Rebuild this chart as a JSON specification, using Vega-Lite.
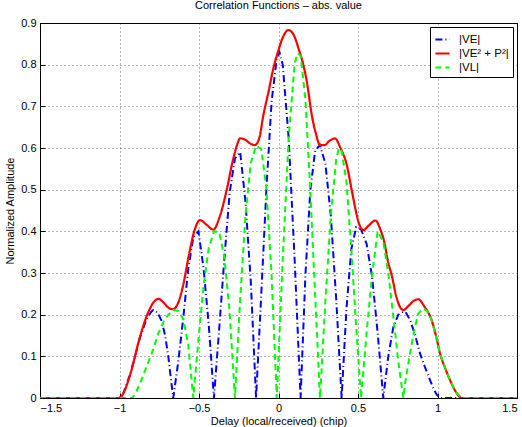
{
  "$schema": "https://vega.github.io/schema/vega-lite/v6.json",
  "width": 477,
  "height": 375,
  "autosize": {"type": "none"},
  "padding": {"left": 40, "top": 23, "right": 5, "bottom": 29},
  "background": "white",
  "title": {"text": "Correlation Functions – abs. value", "fontSize": 11, "fontWeight": "normal", "font": "Liberation Sans", "offset": 6, "color": "#000"},
  "config": {
    "font": "Liberation Sans",
    "view": {"stroke": "#000", "strokeWidth": 1},
    "axis": {
      "domainColor": "#000", "domainWidth": 1, "tickColor": "#000", "labelColor": "#000", "titleColor": "#000",
      "labelFont": "Liberation Sans", "titleFont": "Liberation Sans",
      "labelFontSize": 11, "titleFontSize": 11, "titleFontWeight": "normal",
      "gridColor": "#000", "gridDash": [1, 3], "gridOpacity": 0.6, "gridWidth": 1,
      "tickSize": -5, "labelPadding": 9
    }
  },
  "data": {"values": [
    {"s": "|VE|", "x": -1.5, "y": 0}, {"s": "|VE|", "x": -1.0, "y": 0}, {"s": "|VE|", "x": -0.976, "y": 0.011}, {"s": "|VE|", "x": -0.93, "y": 0.06},
    {"s": "|VE|", "x": -0.871, "y": 0.145}, {"s": "|VE|", "x": -0.83, "y": 0.19}, {"s": "|VE|", "x": -0.8, "y": 0.207}, {"s": "|VE|", "x": -0.787, "y": 0.211},
    {"s": "|VE|", "x": -0.76, "y": 0.205}, {"s": "|VE|", "x": -0.735, "y": 0.185}, {"s": "|VE|", "x": -0.713, "y": 0.15}, {"s": "|VE|", "x": -0.693, "y": 0.1},
    {"s": "|VE|", "x": -0.678, "y": 0.05}, {"s": "|VE|", "x": -0.662, "y": 0}, {"s": "|VE|", "x": -0.6305, "y": 0.087}, {"s": "|VE|", "x": -0.599, "y": 0.192},
    {"s": "|VE|", "x": -0.5675, "y": 0.31}, {"s": "|VE|", "x": -0.536, "y": 0.385}, {"s": "|VE|", "x": -0.5035, "y": 0.4}, {"s": "|VE|", "x": -0.471, "y": 0.31},
    {"s": "|VE|", "x": -0.4385, "y": 0.175}, {"s": "|VE|", "x": -0.406, "y": 0}, {"s": "|VE|", "x": -0.373, "y": 0.166}, {"s": "|VE|", "x": -0.34, "y": 0.337},
    {"s": "|VE|", "x": -0.307, "y": 0.493}, {"s": "|VE|", "x": -0.274, "y": 0.575}, {"s": "|VE|", "x": -0.2408, "y": 0.59}, {"s": "|VE|", "x": -0.2075, "y": 0.47},
    {"s": "|VE|", "x": -0.1743, "y": 0.28}, {"s": "|VE|", "x": -0.141, "y": 0}, {"s": "|VE|", "x": -0.1085, "y": 0.249}, {"s": "|VE|", "x": -0.076, "y": 0.502},
    {"s": "|VE|", "x": -0.0435, "y": 0.711}, {"s": "|VE|", "x": -0.011, "y": 0.815}, {"s": "|VE|", "x": 0.006, "y": 0.83}, {"s": "|VE|", "x": 0.0265, "y": 0.8},
    {"s": "|VE|", "x": 0.064, "y": 0.624}, {"s": "|VE|", "x": 0.1015, "y": 0.332}, {"s": "|VE|", "x": 0.139, "y": 0}, {"s": "|VE|", "x": 0.1695, "y": 0.297},
    {"s": "|VE|", "x": 0.2, "y": 0.498}, {"s": "|VE|", "x": 0.2305, "y": 0.594}, {"s": "|VE|", "x": 0.261, "y": 0.607}, {"s": "|VE|", "x": 0.295, "y": 0.562},
    {"s": "|VE|", "x": 0.329, "y": 0.438}, {"s": "|VE|", "x": 0.363, "y": 0.237}, {"s": "|VE|", "x": 0.397, "y": 0}, {"s": "|VE|", "x": 0.4275, "y": 0.215},
    {"s": "|VE|", "x": 0.458, "y": 0.357}, {"s": "|VE|", "x": 0.4885, "y": 0.41}, {"s": "|VE|", "x": 0.519, "y": 0.405}, {"s": "|VE|", "x": 0.554, "y": 0.37},
    {"s": "|VE|", "x": 0.589, "y": 0.29}, {"s": "|VE|", "x": 0.624, "y": 0.155}, {"s": "|VE|", "x": 0.659, "y": 0}, {"s": "|VE|", "x": 0.6905, "y": 0.1},
    {"s": "|VE|", "x": 0.722, "y": 0.17}, {"s": "|VE|", "x": 0.7535, "y": 0.2}, {"s": "|VE|", "x": 0.785, "y": 0.207}, {"s": "|VE|", "x": 0.8, "y": 0.206},
    {"s": "|VE|", "x": 0.83, "y": 0.185}, {"s": "|VE|", "x": 0.86, "y": 0.15}, {"s": "|VE|", "x": 0.89, "y": 0.107}, {"s": "|VE|", "x": 0.92, "y": 0.075},
    {"s": "|VE|", "x": 0.953, "y": 0.043}, {"s": "|VE|", "x": 0.975, "y": 0.022}, {"s": "|VE|", "x": 0.995, "y": 0.008}, {"s": "|VE|", "x": 1.02, "y": 0},
    {"s": "|VE|", "x": 1.5, "y": 0},

    {"s": "|VE² + P²|", "x": -1.5, "y": 0}, {"s": "|VE² + P²|", "x": -1.0, "y": 0}, {"s": "|VE² + P²|", "x": -0.976, "y": 0.011}, {"s": "|VE² + P²|", "x": -0.93, "y": 0.06},
    {"s": "|VE² + P²|", "x": -0.871, "y": 0.147}, {"s": "|VE² + P²|", "x": -0.82, "y": 0.205}, {"s": "|VE² + P²|", "x": -0.785, "y": 0.23}, {"s": "|VE² + P²|", "x": -0.756, "y": 0.238},
    {"s": "|VE² + P²|", "x": -0.72, "y": 0.228}, {"s": "|VE² + P²|", "x": -0.69, "y": 0.216}, {"s": "|VE² + P²|", "x": -0.665, "y": 0.213}, {"s": "|VE² + P²|", "x": -0.635, "y": 0.225},
    {"s": "|VE² + P²|", "x": -0.6, "y": 0.27}, {"s": "|VE² + P²|", "x": -0.565, "y": 0.34}, {"s": "|VE² + P²|", "x": -0.53, "y": 0.4}, {"s": "|VE² + P²|", "x": -0.494, "y": 0.427},
    {"s": "|VE² + P²|", "x": -0.45, "y": 0.415}, {"s": "|VE² + P²|", "x": -0.41, "y": 0.404}, {"s": "|VE² + P²|", "x": -0.37, "y": 0.435}, {"s": "|VE² + P²|", "x": -0.326, "y": 0.499},
    {"s": "|VE² + P²|", "x": -0.29, "y": 0.565}, {"s": "|VE² + P²|", "x": -0.26, "y": 0.608}, {"s": "|VE² + P²|", "x": -0.242, "y": 0.623}, {"s": "|VE² + P²|", "x": -0.21, "y": 0.62},
    {"s": "|VE² + P²|", "x": -0.175, "y": 0.61}, {"s": "|VE² + P²|", "x": -0.148, "y": 0.607}, {"s": "|VE² + P²|", "x": -0.12, "y": 0.625}, {"s": "|VE² + P²|", "x": -0.096, "y": 0.677},
    {"s": "|VE² + P²|", "x": -0.06, "y": 0.74}, {"s": "|VE² + P²|", "x": -0.033, "y": 0.79}, {"s": "|VE² + P²|", "x": 0.0, "y": 0.835}, {"s": "|VE² + P²|", "x": 0.03, "y": 0.868},
    {"s": "|VE² + P²|", "x": 0.062, "y": 0.883}, {"s": "|VE² + P²|", "x": 0.095, "y": 0.872}, {"s": "|VE² + P²|", "x": 0.125, "y": 0.84}, {"s": "|VE² + P²|", "x": 0.156, "y": 0.8},
    {"s": "|VE² + P²|", "x": 0.18, "y": 0.755}, {"s": "|VE² + P²|", "x": 0.209, "y": 0.68}, {"s": "|VE² + P²|", "x": 0.235, "y": 0.635}, {"s": "|VE² + P²|", "x": 0.261, "y": 0.607},
    {"s": "|VE² + P²|", "x": 0.29, "y": 0.607}, {"s": "|VE² + P²|", "x": 0.32, "y": 0.617}, {"s": "|VE² + P²|", "x": 0.355, "y": 0.623}, {"s": "|VE² + P²|", "x": 0.39, "y": 0.6},
    {"s": "|VE² + P²|", "x": 0.429, "y": 0.56}, {"s": "|VE² + P²|", "x": 0.46, "y": 0.5}, {"s": "|VE² + P²|", "x": 0.481, "y": 0.459}, {"s": "|VE² + P²|", "x": 0.505, "y": 0.42},
    {"s": "|VE² + P²|", "x": 0.534, "y": 0.403}, {"s": "|VE² + P²|", "x": 0.57, "y": 0.415}, {"s": "|VE² + P²|", "x": 0.61, "y": 0.426}, {"s": "|VE² + P²|", "x": 0.64, "y": 0.405},
    {"s": "|VE² + P²|", "x": 0.665, "y": 0.375}, {"s": "|VE² + P²|", "x": 0.69, "y": 0.325}, {"s": "|VE² + P²|", "x": 0.712, "y": 0.295}, {"s": "|VE² + P²|", "x": 0.74, "y": 0.245},
    {"s": "|VE² + P²|", "x": 0.765, "y": 0.218}, {"s": "|VE² + P²|", "x": 0.785, "y": 0.211}, {"s": "|VE² + P²|", "x": 0.82, "y": 0.222}, {"s": "|VE² + P²|", "x": 0.85, "y": 0.233},
    {"s": "|VE² + P²|", "x": 0.879, "y": 0.237}, {"s": "|VE² + P²|", "x": 0.92, "y": 0.218}, {"s": "|VE² + P²|", "x": 0.963, "y": 0.187}, {"s": "|VE² + P²|", "x": 0.99, "y": 0.15},
    {"s": "|VE² + P²|", "x": 1.016, "y": 0.107}, {"s": "|VE² + P²|", "x": 1.05, "y": 0.07}, {"s": "|VE² + P²|", "x": 1.079, "y": 0.043}, {"s": "|VE² + P²|", "x": 1.12, "y": 0.012},
    {"s": "|VE² + P²|", "x": 1.152, "y": 0}, {"s": "|VE² + P²|", "x": 1.5, "y": 0},

    {"s": "|VL|", "x": -1.5, "y": 0}, {"s": "|VL|", "x": -0.92, "y": 0}, {"s": "|VL|", "x": -0.9, "y": 0.01}, {"s": "|VL|", "x": -0.871, "y": 0.035},
    {"s": "|VL|", "x": -0.83, "y": 0.075}, {"s": "|VL|", "x": -0.797, "y": 0.107}, {"s": "|VL|", "x": -0.756, "y": 0.155}, {"s": "|VL|", "x": -0.72, "y": 0.185},
    {"s": "|VL|", "x": -0.693, "y": 0.2}, {"s": "|VL|", "x": -0.662, "y": 0.211}, {"s": "|VL|", "x": -0.6305, "y": 0.209}, {"s": "|VL|", "x": -0.599, "y": 0.19},
    {"s": "|VL|", "x": -0.5675, "y": 0.128}, {"s": "|VL|", "x": -0.536, "y": 0}, {"s": "|VL|", "x": -0.5035, "y": 0.14}, {"s": "|VL|", "x": -0.471, "y": 0.27},
    {"s": "|VL|", "x": -0.4385, "y": 0.36}, {"s": "|VL|", "x": -0.406, "y": 0.4}, {"s": "|VL|", "x": -0.373, "y": 0.398}, {"s": "|VL|", "x": -0.34, "y": 0.337},
    {"s": "|VL|", "x": -0.307, "y": 0.205}, {"s": "|VL|", "x": -0.274, "y": 0}, {"s": "|VL|", "x": -0.2408, "y": 0.238}, {"s": "|VL|", "x": -0.2075, "y": 0.438},
    {"s": "|VL|", "x": -0.1743, "y": 0.564}, {"s": "|VL|", "x": -0.141, "y": 0.605}, {"s": "|VL|", "x": -0.1085, "y": 0.598}, {"s": "|VL|", "x": -0.076, "y": 0.502},
    {"s": "|VL|", "x": -0.0435, "y": 0.295}, {"s": "|VL|", "x": -0.011, "y": 0}, {"s": "|VL|", "x": 0.0265, "y": 0.331}, {"s": "|VL|", "x": 0.064, "y": 0.624},
    {"s": "|VL|", "x": 0.1015, "y": 0.802}, {"s": "|VL|", "x": 0.12, "y": 0.827}, {"s": "|VL|", "x": 0.139, "y": 0.822}, {"s": "|VL|", "x": 0.1695, "y": 0.716},
    {"s": "|VL|", "x": 0.2, "y": 0.498}, {"s": "|VL|", "x": 0.2305, "y": 0.246}, {"s": "|VL|", "x": 0.261, "y": 0}, {"s": "|VL|", "x": 0.295, "y": 0.233},
    {"s": "|VL|", "x": 0.329, "y": 0.438}, {"s": "|VL|", "x": 0.363, "y": 0.573}, {"s": "|VL|", "x": 0.38, "y": 0.6}, {"s": "|VL|", "x": 0.397, "y": 0.593},
    {"s": "|VL|", "x": 0.4275, "y": 0.519}, {"s": "|VL|", "x": 0.458, "y": 0.357}, {"s": "|VL|", "x": 0.4885, "y": 0.171}, {"s": "|VL|", "x": 0.519, "y": 0},
    {"s": "|VL|", "x": 0.554, "y": 0.156}, {"s": "|VL|", "x": 0.589, "y": 0.297}, {"s": "|VL|", "x": 0.624, "y": 0.4}, {"s": "|VL|", "x": 0.659, "y": 0.375},
    {"s": "|VL|", "x": 0.6905, "y": 0.3}, {"s": "|VL|", "x": 0.722, "y": 0.196}, {"s": "|VL|", "x": 0.7535, "y": 0.088}, {"s": "|VL|", "x": 0.785, "y": 0},
    {"s": "|VL|", "x": 0.8, "y": 0.045}, {"s": "|VL|", "x": 0.827, "y": 0.107}, {"s": "|VL|", "x": 0.85, "y": 0.155}, {"s": "|VL|", "x": 0.879, "y": 0.203},
    {"s": "|VL|", "x": 0.911, "y": 0.215}, {"s": "|VL|", "x": 0.94, "y": 0.207}, {"s": "|VL|", "x": 0.963, "y": 0.187}, {"s": "|VL|", "x": 0.99, "y": 0.15},
    {"s": "|VL|", "x": 1.016, "y": 0.107}, {"s": "|VL|", "x": 1.05, "y": 0.07}, {"s": "|VL|", "x": 1.079, "y": 0.043}, {"s": "|VL|", "x": 1.12, "y": 0.012},
    {"s": "|VL|", "x": 1.152, "y": 0}, {"s": "|VL|", "x": 1.5, "y": 0}
  ]},
  "encoding": {
    "x": {"field": "x", "type": "quantitative", "scale": {"domain": [-1.5, 1.5], "nice": false, "zero": false},
      "axis": {"values": [-1.5, -1, -0.5, 0, 0.5, 1, 1.5], "format": "~g", "title": "Delay (local/received) (chip)", "titlePadding": 2, "grid": true}},
    "y": {"field": "y", "type": "quantitative", "scale": {"domain": [0, 0.9], "nice": false},
      "axis": {"values": [0, 0.1, 0.2, 0.3, 0.4, 0.5, 0.6, 0.7, 0.8, 0.9], "format": ".1~f", "title": "Normalized Amplitude", "titlePadding": 5, "grid": true}},
    "color": {"field": "s", "type": "nominal",
      "scale": {"domain": ["|VE|", "|VE² + P²|", "|VL|"], "range": ["#0000ff", "#ff0000", "#00ff00"]},
      "legend": {"title": null, "orient": "top-right", "offset": 4, "strokeColor": "#000", "fillColor": "#fff", "padding": 4,
        "symbolType": "stroke", "symbolStrokeWidth": 2, "symbolSize": 200, "labelFontSize": 11.5, "labelFont": "Liberation Sans", "labelColor": "#000", "rowPadding": 0, "labelOffset": 8}},
    "strokeDash": {"field": "s", "type": "nominal",
      "scale": {"domain": ["|VE|", "|VE² + P²|", "|VL|"], "range": [[7, 3, 1, 3], [1, 0], [6, 4]]},
      "legend": {"title": null, "orient": "top-right", "offset": 4, "strokeColor": "#000", "fillColor": "#fff", "padding": 4,
        "symbolType": "stroke", "symbolStrokeWidth": 2, "symbolSize": 200, "labelFontSize": 11.5, "labelFont": "Liberation Sans", "labelColor": "#000", "rowPadding": 0, "labelOffset": 8}}
  },
  "layer": [
    {"transform": [{"filter": "datum.s === '|VE|'"}], "mark": {"type": "line", "strokeWidth": 2, "clip": true}},
    {"transform": [{"filter": "datum.s === '|VE² + P²|'"}], "mark": {"type": "line", "strokeWidth": 2.2, "clip": true, "interpolate": "monotone"}},
    {"transform": [{"filter": "datum.s === '|VL|'"}], "mark": {"type": "line", "strokeWidth": 2, "clip": true}}
  ]
}
